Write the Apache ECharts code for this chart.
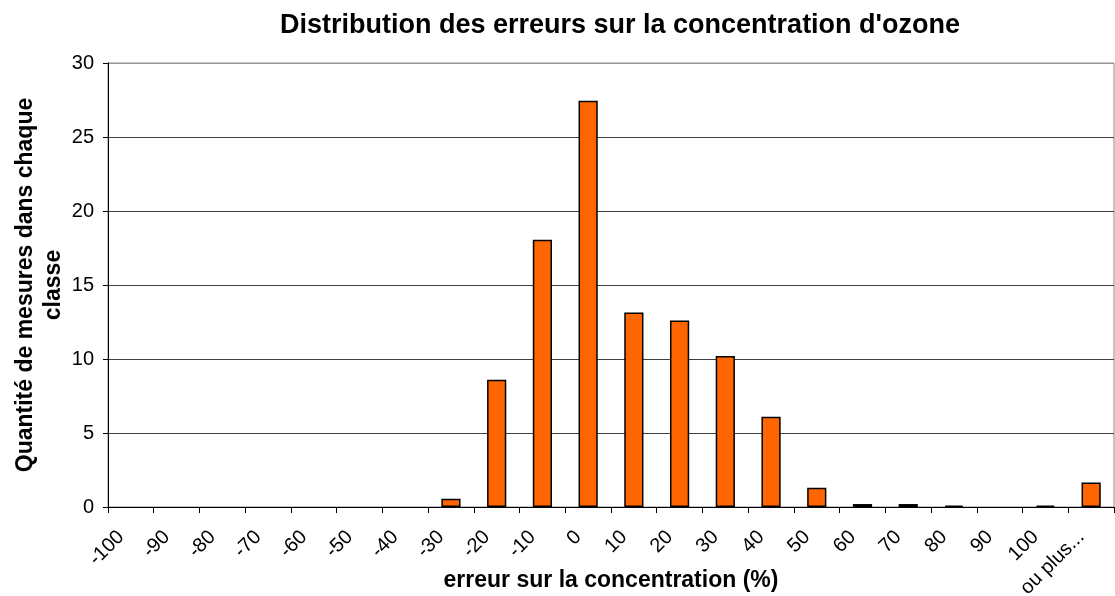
<!DOCTYPE html>
<html>
<head>
<meta charset="utf-8">
<script src="https://cdn.jsdelivr.net/npm/echarts@6/dist/echarts.min.js"></script>
<style>html,body{margin:0;padding:0;background:#fff}#c{width:1115px;height:596px}</style>
</head>
<body>
<div id="c"></div>
<script>
const categories = ['-100','-90','-80','-70','-60','-50','-40','-30','-20','-10','0','10','20','30','40','50','60','70','80','90','100','ou plus...'];
const counts = [0,0,0,0,0,0,0,0.55,8.6,18.05,27.45,13.15,12.6,10.2,6.1,1.3,0.2,0.2,0.1,0,0.1,1.65];
const yTicks = [0,5,10,15,20,25,30];

const chart = echarts.init(document.getElementById('c'), null, {renderer:'canvas'});
const F = 'Liberation Sans, Arial, sans-serif';
chart.setOption({
  animation:false,
  backgroundColor:'#fff',
  title:{text:"Distribution des erreurs sur la concentration d'ozone",left:615,textAlign:'center',top:7,
    textStyle:{fontFamily:F,fontSize:27,fontWeight:'bold',color:'#000'}},
  grid:{left:108,right:1,top:63,bottom:89,show:true,borderColor:'#888',borderWidth:1,outerBoundsMode:'none',containLabel:false},
  xAxis:{type:'category',data:categories,
    axisLine:{lineStyle:{color:'#000',width:1}},
    axisTick:{show:true,length:6,lineStyle:{color:'#000'}},
    axisLabel:{rotate:45,fontFamily:F,fontSize:20,color:'#000',margin:17,interval:0,padding:[0,14,0,0],hideOverlap:false},
    name:'erreur sur la concentration (%)',nameLocation:'middle',nameGap:62,nameMoveOverlap:false,
    nameTextStyle:{fontFamily:F,fontSize:23,fontWeight:'bold',color:'#000'}
  },
  yAxis:{type:'value',min:yTicks[0],max:yTicks[yTicks.length-1],interval:5,
    axisLine:{show:true,lineStyle:{color:'#000'}},
    axisTick:{show:true,length:5,lineStyle:{color:'#000'}},
    axisLabel:{fontFamily:F,fontSize:20,color:'#000',margin:14},
    splitLine:{show:true,lineStyle:{color:['#404040','#404040','#404040','#404040','#404040','#404040','#999'],width:1}},
    name:'Quantité de mesures dans chaque\nclasse',nameLocation:'middle',nameGap:40,nameMoveOverlap:false,
    nameTextStyle:{fontFamily:F,fontSize:23,fontWeight:'bold',color:'#000',lineHeight:28}
  },
  series:[{type:'bar',data:counts.map(v => v === 0 ? '-' : v),barCategoryGap:'58%',
    itemStyle:{color:'#FF6600',borderColor:'#000',borderWidth:1.5}}]
});
</script>
</body>
</html>
